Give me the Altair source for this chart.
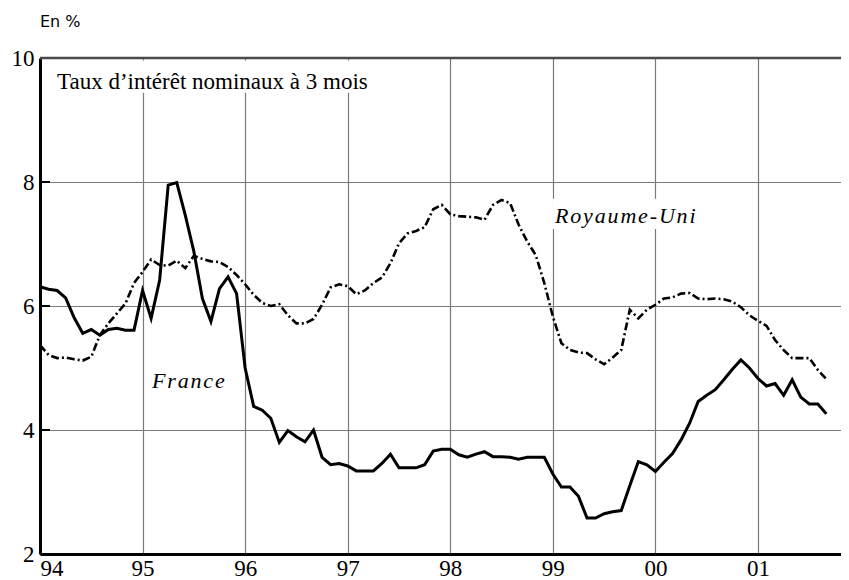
import altair as alt
import pandas as pd

# Monthly 3-month nominal interest rates, Jan 1994 - Sep 2001 (in %)
france = [6.31, 6.27, 6.25, 6.13, 5.81, 5.56, 5.62, 5.53, 5.62, 5.64, 5.61, 5.61,
          6.25, 5.80, 6.42, 7.95, 7.99, 7.46, 6.88, 6.12, 5.75, 6.28, 6.47, 6.20,
          5.00, 4.38, 4.32, 4.19, 3.80, 3.99, 3.89, 3.81, 4.00, 3.56, 3.44, 3.46,
          3.42, 3.34, 3.34, 3.34, 3.46, 3.61, 3.39, 3.39, 3.39, 3.44, 3.66, 3.69,
          3.69, 3.60, 3.56, 3.61, 3.65, 3.57, 3.57, 3.56, 3.53, 3.56, 3.56, 3.56,
          3.29, 3.08, 3.08, 2.93, 2.58, 2.58, 2.65, 2.68, 2.70, 3.10, 3.49, 3.44,
          3.33, 3.48, 3.62, 3.84, 4.11, 4.46, 4.56, 4.65, 4.81, 4.98, 5.13, 5.00,
          4.83, 4.71, 4.75, 4.56, 4.81, 4.53, 4.42, 4.42, 4.26]
uk = [5.37, 5.21, 5.16, 5.17, 5.14, 5.12, 5.18, 5.53, 5.72, 5.88, 6.04, 6.37,
      6.55, 6.75, 6.66, 6.65, 6.73, 6.61, 6.81, 6.76, 6.72, 6.71, 6.63, 6.50,
      6.35, 6.18, 6.05, 6.00, 6.03, 5.85, 5.72, 5.72, 5.79, 6.02, 6.30, 6.35,
      6.32, 6.19, 6.25, 6.37, 6.46, 6.69, 7.01, 7.17, 7.21, 7.27, 7.56, 7.63,
      7.48, 7.45, 7.44, 7.43, 7.39, 7.63, 7.71, 7.66, 7.31, 7.04, 6.82, 6.37,
      5.83, 5.40, 5.29, 5.25, 5.24, 5.14, 5.06, 5.17, 5.29, 5.94, 5.80, 5.94,
      6.02, 6.12, 6.14, 6.20, 6.21, 6.12, 6.11, 6.12, 6.11, 6.07, 5.98, 5.85,
      5.76, 5.68, 5.45, 5.29, 5.16, 5.16, 5.16, 4.97, 4.82]
x_ticks = [1994, 1995, 1996, 1997, 1998, 1999, 2000, 2001]
y_ticks = [2, 4, 6, 8, 10]
title_text = "Taux d\u2019intérêt nominaux à 3 mois"
label_fr = "France"
label_uk = "Royaume-Uni"
unit_text = "En %"

times = [1994 + m / 12 for m in range(len(france))]
df_fr = pd.DataFrame({"t": times, "v": france})
df_uk = pd.DataFrame({"t": times[:len(uk)], "v": uk})
df_yt = pd.DataFrame({"v": y_ticks})
one = pd.DataFrame({"k": [0]})

W, H = 801, 496
XMAX = 1994 + W / 102.57
SERIF = "Liberation Serif, Times New Roman, serif"

xs = alt.Scale(domain=[1994, XMAX], nice=False, zero=False)
ys = alt.Scale(domain=[2, 10], nice=False, zero=False)

def spaced(s):
    return "\u200a".join(s)

x_axis = alt.Axis(values=x_ticks, labelExpr="substring(toString(datum.value), 2)",
                  title=None, grid=True, gridColor="#7a7a7a", gridWidth=1.2,
                  domainColor="black", domainWidth=3, ticks=False, labelPadding=3,
                  labelFont=SERIF, labelFontSize=23, labelColor="black")
y_axis = alt.Axis(values=y_ticks, title=None, grid=True, gridColor="#7a7a7a", gridWidth=1.2,
                  domainColor="black", domainWidth=3, ticks=False, labelPadding=6,
                  labelFont=SERIF, labelFontSize=23, labelColor="black")

def X(field=None, datum=None):
    if datum is not None:
        return alt.X(datum=datum, type="quantitative", scale=xs, axis=x_axis)
    return alt.X(field, type="quantitative", scale=xs, axis=x_axis)

def Y(field=None, datum=None):
    if datum is not None:
        return alt.Y(datum=datum, type="quantitative", scale=ys, axis=y_axis)
    return alt.Y(field, type="quantitative", scale=ys, axis=y_axis)

fr_line = alt.Chart(df_fr).mark_line(color="black", strokeWidth=3).encode(x=X("t"), y=Y("v"))
uk_line = alt.Chart(df_uk).mark_line(color="black", strokeWidth=2.6, strokeDash=[8, 3, 2, 3]).encode(
    x=X("t"), y=Y("v"))
yticks_rule = alt.Chart(df_yt).mark_rule(color="black", strokeWidth=2).encode(
    x=alt.value(0), x2=alt.value(10), y=Y("v"))
top_rule = alt.Chart(one).mark_rule(color="#4a4a4a", strokeWidth=2.5).encode(
    x=alt.value(0), x2=alt.value(W), y=Y(datum=10))

box_title = alt.Chart(one).mark_rect(color="white").encode(
    x=X(datum=1994.05), x2=alt.datum(1997.25), y=Y(datum=9.96), y2=alt.datum(9.44))
box_uk = alt.Chart(one).mark_rect(color="white").encode(
    x=X(datum=1998.995), x2=alt.datum(2000.41), y=Y(datum=7.73), y2=alt.datum(7.24))

t_title = alt.Chart(one).mark_text(text=title_text, font=SERIF, fontSize=23, align="left",
                                   baseline="alphabetic", color="black").encode(
    x=X(datum=1994.166), y=Y(datum=9.5))
t_fr = alt.Chart(one).mark_text(text=spaced(label_fr), font=SERIF, fontSize=22, fontStyle="italic",
                                align="left", baseline="alphabetic", color="black").encode(
    x=X(datum=1995.092), y=Y(datum=4.677))
t_uk = alt.Chart(one).mark_text(text=spaced(label_uk), font=SERIF, fontSize=22, fontStyle="italic",
                                align="left", baseline="alphabetic", color="black").encode(
    x=X(datum=1999.021), y=Y(datum=7.339))
t_unit = alt.Chart(one).mark_text(text=unit_text, font="DejaVu Sans", fontSize=16, align="left",
                                  baseline="alphabetic", color="black").encode(
    x=alt.value(0), y=alt.value(-31))

chart = alt.layer(
    fr_line, box_title, box_uk, uk_line, yticks_rule, top_rule, t_title, t_fr, t_uk, t_unit
).properties(
    width=W, height=H,
    autosize=alt.AutoSizeParams(type="none"),
    padding={"left": 32, "top": 50, "right": 0, "bottom": 26},
).configure_view(stroke=None).configure(background="white")

chart.save("out.html", embed_options={"renderer": "svg", "actions": False})
